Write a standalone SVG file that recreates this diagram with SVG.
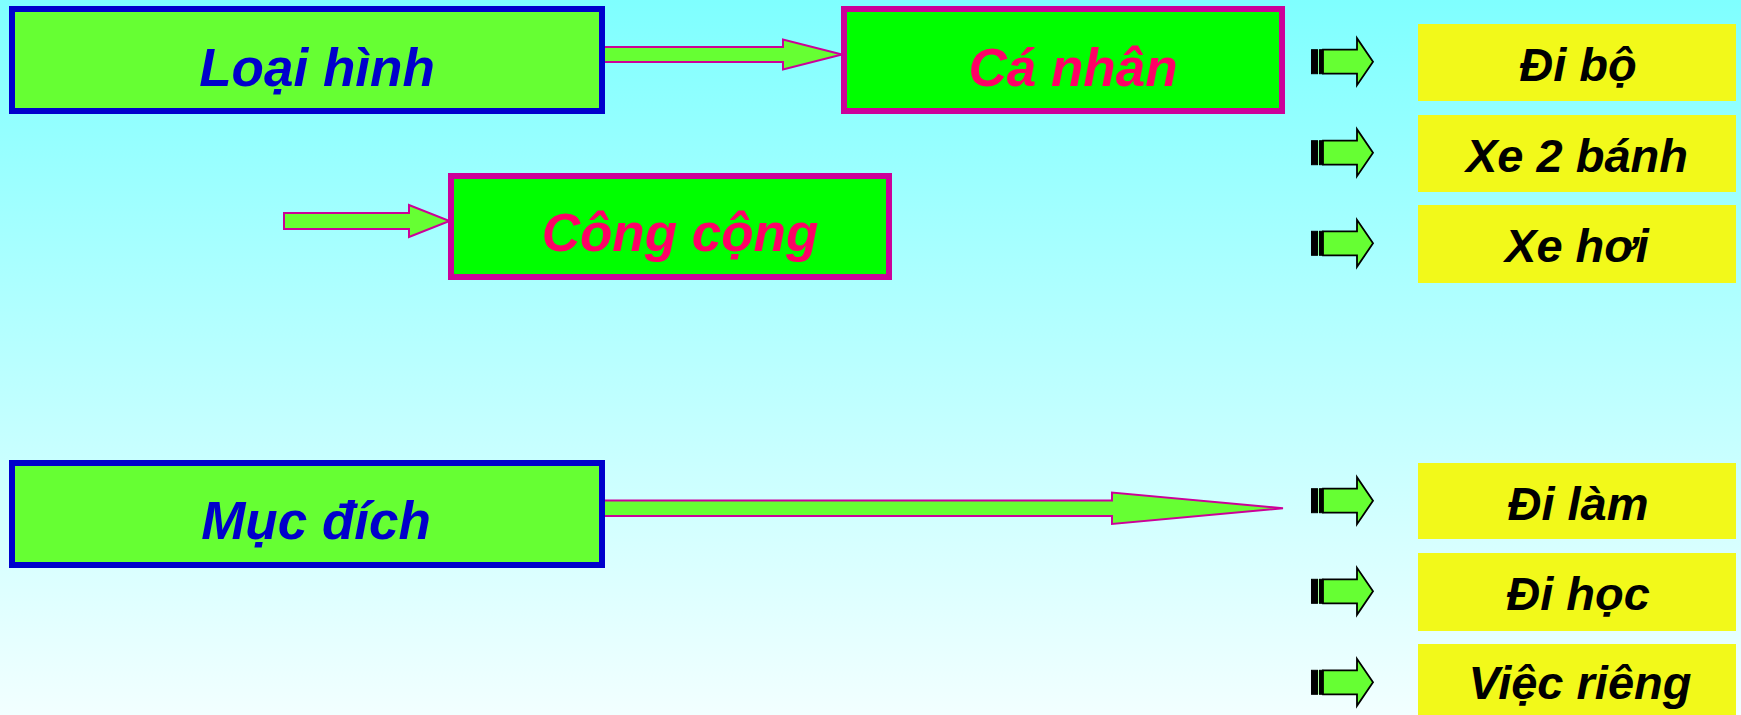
<svg xmlns="http://www.w3.org/2000/svg" width="1741" height="715" viewBox="0 0 1741 715">
<defs>
<linearGradient id="bg" x1="0" y1="0" x2="0" y2="1">
<stop offset="0" stop-color="#7FFFFF"/>
<stop offset="1" stop-color="#F2FFFF"/>
</linearGradient>
<g id="sarrow">
<rect x="1311.5" y="-12" width="6" height="24" fill="#000" stroke="#000" stroke-width="1"/>
<rect x="1318.5" y="-12" width="1.5" height="24" fill="#66FF33"/>
<rect x="1319.5" y="-12" width="3.5" height="24" fill="#000" stroke="#000" stroke-width="1"/>
<path d="M1323,-12 H1357 V-23.5 L1373,0 L1357,23.5 V12 H1323 Z" fill="#66FF33" stroke="#000" stroke-width="1.8" stroke-linejoin="miter"/>
</g>
</defs>
<style>
.main{stroke-width:6}
.blue{fill:#66FF33;stroke:#0000CC}
.pink{fill:#00FF00;stroke:#CC0099}
.yel{fill:#F2F91A}
.conn{fill:#66FF33;stroke:#CC0099;stroke-width:2;stroke-linejoin:miter}
text{font-family:"Liberation Sans",Arial,sans-serif;font-weight:bold;font-style:italic;text-anchor:middle}
.tb{font-size:53px;fill:#0000CC}
.tp{font-size:53px;fill:#FF0066}
.ty{font-size:47px;fill:#000}
</style>
<rect x="0" y="0" width="1741" height="715" fill="url(#bg)"/>

<g id="connectors">
<polygon class="conn" points="602,47 783,47 783,39.5 842,54.5 783,69.5 783,62 602,62"/>
<polygon class="conn" points="284,213 409,213 409,205 449.5,221 409,237 409,229 284,229"/>
<polygon class="conn" points="603,500.5 1112,500.5 1112,492.5 1283,508.3 1112,524 1112,516 603,516"/>
<use href="#sarrow" y="61.7"/>
<use href="#sarrow" y="152.7"/>
<use href="#sarrow" y="243.3"/>
<use href="#sarrow" y="500.7"/>
<use href="#sarrow" y="591.3"/>
<use href="#sarrow" y="682.3"/>
</g>

<g id="loai-hinh">
<rect class="main blue" x="12" y="9" width="590" height="102"/>
<text class="tb" x="317" y="86">Loại hình</text>
</g>
<g id="ca-nhan">
<rect class="main pink" x="844" y="9" width="438" height="102"/>
<text class="tp" x="1073" y="86">Cá nhân</text>
</g>
<g id="cong-cong">
<rect class="main pink" x="451" y="176" width="438" height="101"/>
<text class="tp" x="680" y="251">Công cộng</text>
</g>
<g id="muc-dich">
<rect class="main blue" x="12" y="463" width="590" height="102"/>
<text class="tb" x="316" y="539">Mục đích</text>
</g>

<g id="di-bo">
<rect class="yel" x="1418" y="24" width="318" height="77"/>
<text class="ty" x="1578" y="81">Đi bộ</text>
</g>
<g id="xe-2-banh">
<rect class="yel" x="1418" y="115" width="318" height="77"/>
<text class="ty" x="1577" y="172">Xe 2 bánh</text>
</g>
<g id="xe-hoi">
<rect class="yel" x="1418" y="205" width="318" height="78"/>
<text class="ty" x="1577" y="262">Xe hơi</text>
</g>
<g id="di-lam">
<rect class="yel" x="1418" y="463" width="318" height="76"/>
<text class="ty" x="1578" y="520">Đi làm</text>
</g>
<g id="di-hoc">
<rect class="yel" x="1418" y="553" width="318" height="78"/>
<text class="ty" x="1578" y="610">Đi học</text>
</g>
<g id="viec-rieng">
<rect class="yel" x="1418" y="644" width="318" height="80"/>
<text class="ty" x="1580" y="699">Việc riêng</text>
</g>
</svg>
